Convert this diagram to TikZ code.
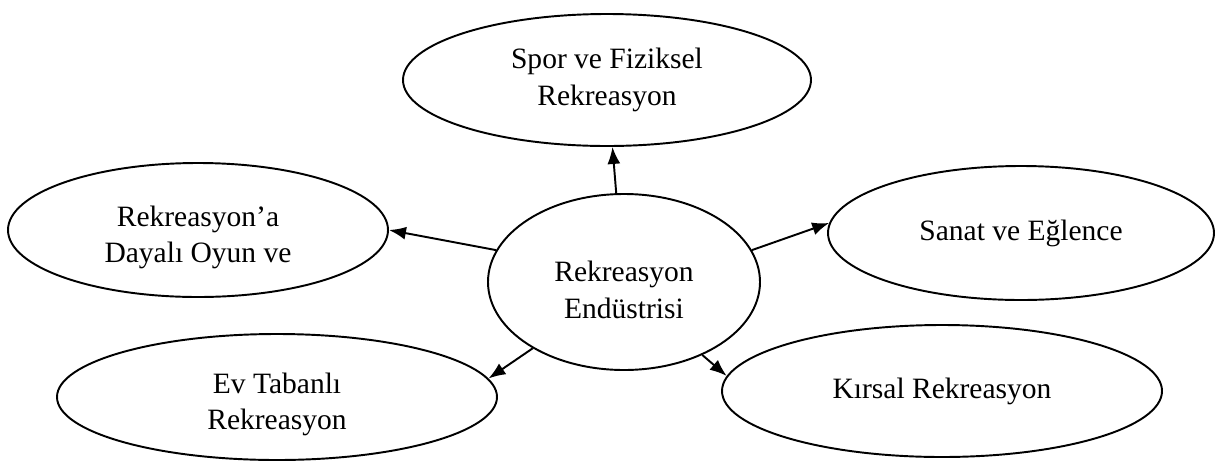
\documentclass[tikz,border=0pt]{standalone}
\usepackage{fontspec}
\setmainfont{Liberation Serif}
\usepackage{tikz}
\usetikzlibrary{arrows.meta, shapes}

% strut that pushes a two-line label a little lower in its ellipse
\newcommand{\lowstrut}{\rule{0pt}{1.2em}}

\begin{document}
\begin{tikzpicture}[x=0.02cm, y=-0.02cm]
\tikzstyle{bubble} = [ellipse, draw, line width=1.1pt, align=center,
    inner sep=0pt, font=\fontsize{16.8}{21}\selectfont]
\tikzstyle{line} = [draw, line width=1.1pt, -{Latex[length=3.4mm,width=2.6mm]}]

 \useasboundingbox (0,0) rectangle (1224,464);

 \node [bubble, minimum width=272*0.02cm, minimum height=176*0.02cm] (core) at (624,282) {\lowstrut Rekreasyon\\Endüstrisi};

 \node [bubble, minimum width=408*0.02cm, minimum height=132*0.02cm] (spor) at (607,80) {Spor ve Fiziksel\\Rekreasyon};
 \node [bubble, minimum width=380*0.02cm, minimum height=134*0.02cm] (oyun) at (198,230) {\lowstrut Rekreasyon’a\\Dayalı Oyun ve};
 \node [bubble, minimum width=386*0.02cm, minimum height=134*0.02cm] (sanat) at (1021,233) {Sanat ve Eğlence};
 \node [bubble, minimum width=440*0.02cm, minimum height=126*0.02cm] (ev) at (277,397) {\lowstrut Ev Tabanlı\\Rekreasyon};
 \node [bubble, minimum width=440*0.02cm, minimum height=132*0.02cm] (kirsal) at (942,391) {Kırsal Rekreasyon};

 \path [line] (core.95) -- (spor);
 \path [line] (core.166) -- (oyun.east);
 \path [line] (core.14) -- (sanat.177);
 \path [line] (core.216) -- (ev.5);
 \path [line] (core.-43) -- (kirsal.176);
\end{tikzpicture}
\end{document}
